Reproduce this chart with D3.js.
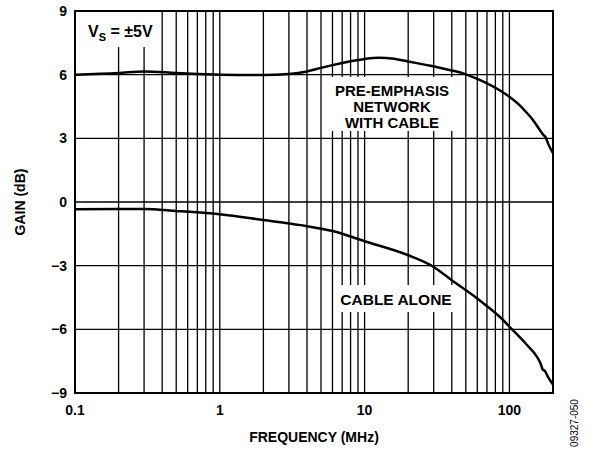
<!DOCTYPE html>
<html>
<head>
<meta charset="utf-8">
<script src="https://cdn.jsdelivr.net/npm/d3@7"></script>
<style>
  body { margin: 0; background: #fff; }
  svg text { font-family: "Liberation Sans", Arial, sans-serif; font-weight: bold; fill: #000; }
</style>
</head>
<body>
<div id="container"></div>
<script>
// Values
var freqTicks = [0.1, 1, 10, 100],
    freqTickLabels = ["0.1", "1", "10", "100"],
    gainTicks = [-9, -6, -3, 0, 3, 6, 9],
    gainTickLabels = ["\u22129", "\u22126", "\u22123", "0", "3", "6", "9"];

// pre-emphasis network with cable
var preFreq = [0.1, 0.2, 0.3, 0.5, 1, 2, 3, 4, 5, 6, 8, 10, 12.5, 16, 20, 27, 33, 40, 48, 60, 70, 85, 100, 115, 130, 145, 160, 172, 178, 185, 200],
    preGain = [6.0, 6.08, 6.15, 6.08, 6.0, 5.98, 6.03, 6.15, 6.32, 6.45, 6.63, 6.74, 6.8, 6.75, 6.62, 6.45, 6.33, 6.2, 6.06, 5.8, 5.59, 5.28, 4.96, 4.62, 4.25, 3.88, 3.45, 3.15, 3.05, 2.75, 2.3];

// cable alone
var cabFreq = [0.1, 0.2, 0.3, 0.5, 1, 2, 3.6, 6, 10, 20, 30, 40, 60, 86, 106, 130, 155, 165, 170, 175, 185, 200],
    cabGain = [-0.34, -0.33, -0.33, -0.42, -0.58, -0.85, -1.09, -1.37, -1.85, -2.51, -3.06, -3.69, -4.55, -5.42, -6.05, -6.68, -7.3, -7.65, -7.9, -7.95, -8.25, -8.6];

var width = 590, height = 451;
// plot area edges (don't call it "top", that's window.top)
var pLeft = 75, pRight = 553, pTop = 11, pBottom = 393;

var svg = d3.select("#container").append("svg")
    .attr("width", width)
    .attr("height", height);

var x = d3.scaleLog().domain([0.1, 200]).range([pLeft, pRight]);
var y = d3.scaleLinear().domain([-9, 9]).range([pBottom, pTop]);

// grid - vertical lines every 1..9 of each decade
var grid = svg.append("g").attr("class", "grid");
grid.selectAll("line.v")
    .data(x.ticks())
    .enter().append("line")
      .attr("class", "v")
      .attr("x1", d => x(d)).attr("x2", d => x(d))
      .attr("y1", pTop).attr("y2", pBottom)
      .attr("stroke", "#000").attr("stroke-width", 1.3);

grid.selectAll("line.h")
    .data(gainTicks)
    .enter().append("line")
      .attr("class", "h")
      .attr("x1", pLeft).attr("x2", pRight)
      .attr("y1", d => y(d)).attr("y2", d => y(d))
      .attr("stroke", "#000").attr("stroke-width", 1.3);

// white boxes behind the labels (hide the grid)
svg.append("rect").attr("x", 80).attr("y", pTop + 1).attr("width", 78).attr("height", 35).attr("fill", "#fff");
svg.append("rect").attr("x", 325).attr("y", 77).attr("width", 135).attr("height", 54).attr("fill", "#fff");
svg.append("rect").attr("x", 335).attr("y", 285).attr("width", 123).attr("height", 27).attr("fill", "#fff");

// frame
svg.append("rect")
    .attr("x", pLeft).attr("y", pTop)
    .attr("width", pRight - pLeft).attr("height", pBottom - pTop)
    .attr("fill", "none").attr("stroke", "#000").attr("stroke-width", 2);

// curves
var line = d3.line()
    .x(d => x(d[0]))
    .y(d => y(d[1]))
    .curve(d3.curveMonotoneX);

svg.append("path")
    .datum(d3.zip(preFreq, preGain))
    .attr("d", line)
    .attr("fill", "none").attr("stroke", "#000").attr("stroke-width", 2.5);

svg.append("path")
    .datum(d3.zip(cabFreq, cabGain))
    .attr("d", line)
    .attr("fill", "none").attr("stroke", "#000").attr("stroke-width", 2.5);

// tick labels
svg.selectAll("text.ylab")
    .data(gainTicks)
    .enter().append("text")
      .attr("class", "ylab")
      .attr("x", 67)
      .attr("y", d => y(d) + 5)
      .attr("text-anchor", "end")
      .style("font-size", "14px")
      .text((d, i) => gainTickLabels[i]);

svg.selectAll("text.xlab")
    .data(freqTicks)
    .enter().append("text")
      .attr("class", "xlab")
      .attr("x", d => x(d))
      .attr("y", 415)
      .attr("text-anchor", "middle")
      .style("font-size", "14px")
      .text((d, i) => freqTickLabels[i]);

// axis titles
svg.append("text")
    .attr("x", (pLeft + pRight) / 2).attr("y", 442)
    .attr("text-anchor", "middle")
    .style("font-size", "14px")
    .text("FREQUENCY (MHz)");

svg.append("text")
    .attr("transform", "translate(25," + ((pTop + pBottom) / 2) + ") rotate(-90)")
    .attr("text-anchor", "middle")
    .style("font-size", "14px")
    .text("GAIN (dB)");

// annotations
var vs = svg.append("text").attr("x", 88).attr("y", 37).style("font-size", "16px");
vs.append("tspan").text("V");
vs.append("tspan").attr("dy", 4).style("font-size", "11px").text("S");
vs.append("tspan").attr("dy", -4).text(" = \u00b15V");

svg.selectAll("text.pre")
    .data(["PRE-EMPHASIS", "NETWORK", "WITH CABLE"])
    .enter().append("text")
      .attr("class", "pre")
      .attr("x", 392)
      .attr("y", (d, i) => 96 + i * 16)
      .attr("text-anchor", "middle")
      .style("font-size", "15px")
      .text(d => d);

svg.append("text")
    .attr("x", 396).attr("y", 305)
    .attr("text-anchor", "middle")
    .style("font-size", "15.5px")
    .text("CABLE ALONE");

// figure code
svg.append("text")
    .attr("transform", "translate(578,423) rotate(-90)")
    .attr("text-anchor", "middle")
    .style("font-size", "10px")
    .style("font-weight", "normal")
    .text("09327-050");
</script>
</body>
</html>
